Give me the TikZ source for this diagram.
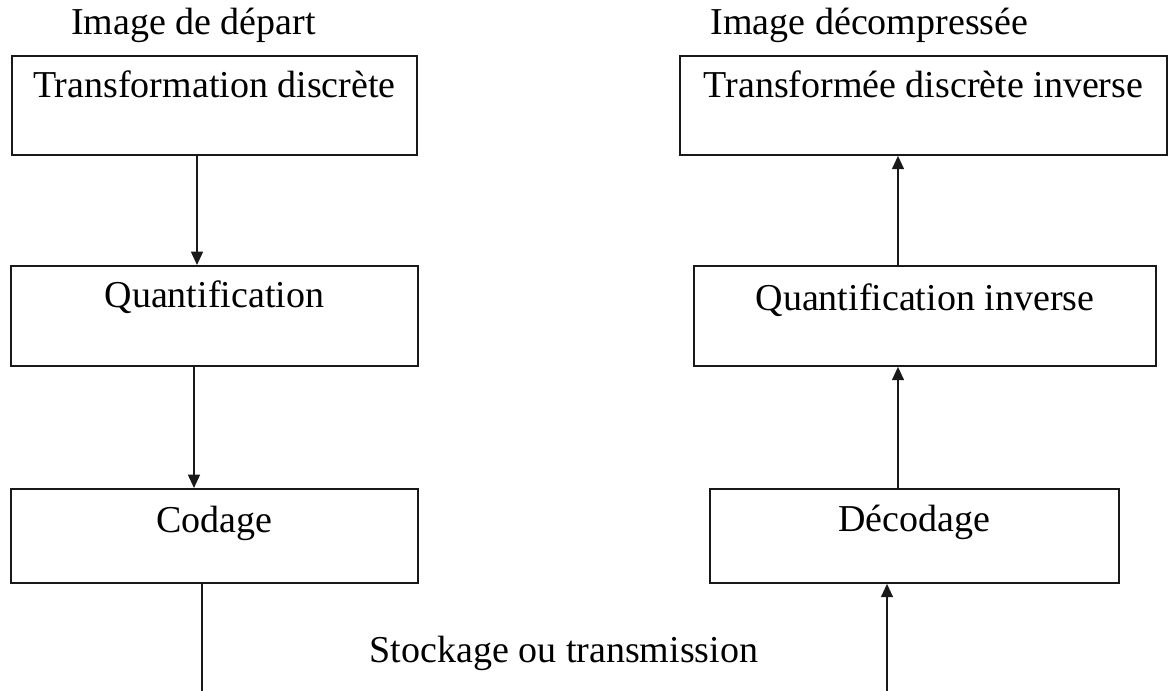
\documentclass[tikz,border=0pt]{standalone}
\usepackage{fontspec}
\setmainfont{Liberation Serif}
\usetikzlibrary{arrows.meta}
\begin{document}
\begin{tikzpicture}[x=0.75pt,y=-0.75pt,
  every node/.style={font=\fontsize{28.5pt}{34pt}\selectfont},
  stagebox/.style={draw=black!90, line width=1.4pt, rectangle, anchor=north west, inner xsep=0pt, inner ysep=0pt, align=center},
  title/.style={inner sep=0pt, anchor=base},
  arr/.style={draw=black!90, line width=1.1pt, -{Triangle[length=10pt,width=9pt]}},
  plain/.style={draw=black!90, line width=1.1pt}]
\useasboundingbox (0,0) rectangle (1168,691);
% left column
\node[stagebox, minimum width=405*0.75pt, text height=42*0.75pt, text depth=57*0.75pt] (l1) at (11,55) {Transformation discrète};
\node[stagebox, minimum width=407*0.75pt, text height=42*0.75pt, text depth=58*0.75pt] (l2) at (10,265) {Quantification};
\node[stagebox, minimum width=407*0.75pt, text height=44*0.75pt, text depth=50*0.75pt] (l3) at (10,488) {Codage};
% right column
\node[stagebox, minimum width=487*0.75pt, text height=42*0.75pt, text depth=57*0.75pt] (r1) at (679,55) {Transformée discrète inverse};
\node[stagebox, minimum width=462*0.75pt, text height=45*0.75pt, text depth=55*0.75pt] (r2) at (693,265) {Quantification inverse};
\node[stagebox, minimum width=409*0.75pt, text height=43*0.75pt, text depth=51*0.75pt] (r3) at (709,488) {Décodage};
% titles
\node[title] (tin) at (193.5,35) {Image de départ};
\node[title] (tout) at (869.5,35) {Image décompressée};
\node[title] (tst) at (564,662) {Stockage ou transmission};
% connectors
\coordinate (lend) at (202,691);
\coordinate (rstart) at (887,691);
\draw[arr] (l1.south -| 197,0) -- (l2.north -| 197,0);
\draw[arr] (l2.south -| 194,0) -- (l3.north -| 194,0);
\draw[plain] (l3.south -| lend) -- (lend);
\draw[arr] (rstart) -- (r3.south -| rstart);
\draw[arr] (r3.north -| 898,0) -- (r2.south -| 898,0);
\draw[arr] (r2.north -| 898,0) -- (r1.south -| 898,0);
\end{tikzpicture}
\end{document}
